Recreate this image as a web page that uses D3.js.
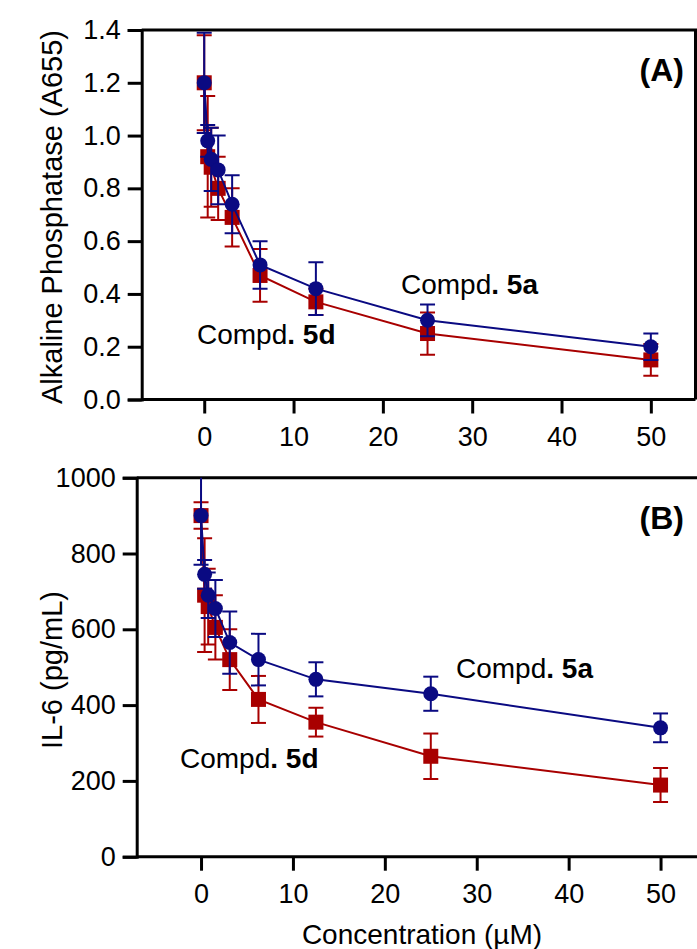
<!DOCTYPE html>
<html>
<head>
<meta charset="UTF-8">
<script src="https://cdn.jsdelivr.net/npm/d3@7"></script>
<style>
  body { margin: 0; background: #fff; }
  svg { display: block; font-family: "Liberation Sans", Arial, sans-serif; }
  .axis path, .axis line { stroke: #000; stroke-width: 3; }
  .axis text { font-size: 27px; fill: #000; }
</style>
</head>
<body>
<script>
// concentrations (uM)
const conc = [0, 0.39, 0.78, 1.56, 3.125, 6.25, 12.5, 25, 50];

// panel A - alkaline phosphatase (A655)
const alp5a = [1.20, 0.98, 0.91, 0.87, 0.74, 0.51, 0.42, 0.30, 0.20];
const alp5aErr = [0.19, 0.06, 0.12, 0.13, 0.11, 0.09, 0.10, 0.06, 0.05];
const alp5d = [1.20, 0.92, 0.88, 0.80, 0.69, 0.47, 0.37, 0.25, 0.15];
const alp5dErr = [0.18, 0.23, 0.15, 0.12, 0.11, 0.10, 0.05, 0.08, 0.06];

// panel B - IL-6 (pg/mL)
const il5a = [900, 745, 690, 655, 565, 520, 468, 430, 340];
const il5aErr = [130, 38, 60, 75, 82, 68, 45, 45, 38];
const il5d = [900, 690, 660, 605, 520, 415, 355, 265, 189];
const il5dErr = [35, 150, 100, 85, 80, 62, 38, 60, 45];

const xTicks = [0, 10, 20, 30, 40, 50];
const alpTicks = [0, 0.2, 0.4, 0.6, 0.8, 1.0, 1.2, 1.4];
const ilTicks = [0, 200, 400, 600, 800, 1000];

const blue = '#0a0a82', red = '#a80000';
const W = 697, H = 949;

const svg = d3.select('body').append('svg').attr('width', W).attr('height', H);

function panel(opt) {
  const x = d3.scaleLinear().domain([-7, 55]).range([opt.left, opt.right]);
  const y = d3.scaleLinear().domain(opt.yDomain).range([opt.bottom, opt.top]);
  const g = svg.append('g');

  const clipId = 'clip' + opt.id;
  g.append('clipPath').attr('id', clipId).append('rect')
    .attr('x', opt.left).attr('y', opt.top)
    .attr('width', opt.right - opt.left).attr('height', opt.bottom - opt.top);

  // frame top + right
  g.append('path')
    .attr('d', `M${opt.left},${opt.top}H${opt.right}V${opt.bottom}`)
    .attr('fill', 'none').attr('stroke', '#000').attr('stroke-width', 3);

  g.append('g').attr('class', 'axis')
    .attr('transform', `translate(0,${opt.bottom})`)
    .call(d3.axisBottom(x).tickValues(xTicks).tickSizeOuter(0).tickSize(14).tickPadding(13))
    .call(a => a.select('.domain').attr('d', `M${opt.left},0H${opt.right}`));

  g.append('g').attr('class', 'axis')
    .attr('transform', `translate(${opt.left},0)`)
    .call(d3.axisLeft(y).tickValues(opt.yTicks).tickFormat(opt.fmt).tickSizeOuter(0).tickSize(14).tickPadding(7));

  const plot = g.append('g').attr('clip-path', `url(#${clipId})`);

  function series(vals, errs, color, shape) {
    const pts = conc.map((c, i) => ({ c, v: vals[i], e: errs[i] }));
    const s = plot.append('g');
    s.selectAll('line.err').data(pts).enter().append('line')
      .attr('x1', d => x(d.c)).attr('x2', d => x(d.c))
      .attr('y1', d => y(d.v - d.e)).attr('y2', d => y(d.v + d.e))
      .attr('stroke', color).attr('stroke-width', 2);
    ['-', '+'].forEach(sign => {
      s.selectAll(null).data(pts).enter().append('line')
        .attr('x1', d => x(d.c) - 7.5).attr('x2', d => x(d.c) + 7.5)
        .attr('y1', d => y(sign === '+' ? d.v + d.e : d.v - d.e))
        .attr('y2', d => y(sign === '+' ? d.v + d.e : d.v - d.e))
        .attr('stroke', color).attr('stroke-width', 2);
    });
    s.append('path').datum(pts)
      .attr('d', d3.line().x(d => x(d.c)).y(d => y(d.v)))
      .attr('fill', 'none').attr('stroke', color).attr('stroke-width', 2);
    if (shape === 'square') {
      s.selectAll('rect').data(pts).enter().append('rect')
        .attr('x', d => x(d.c) - 7.5).attr('y', d => y(d.v) - 7.5)
        .attr('width', 15).attr('height', 15).attr('fill', color);
    } else {
      s.selectAll('circle').data(pts).enter().append('circle')
        .attr('cx', d => x(d.c)).attr('cy', d => y(d.v)).attr('r', 7.5).attr('fill', color);
    }
  }
  series(opt.d, opt.dErr, red, 'square');
  series(opt.a, opt.aErr, blue, 'circle');

  // y title
  g.append('text')
    .attr('transform', `translate(62,${opt.titleY}) rotate(-90)`)
    .attr('text-anchor', 'middle').style('font-size', '29px').text(opt.yTitle);

  // panel letter
  g.append('text').attr('x', 684).attr('y', opt.top + 51)
    .attr('text-anchor', 'end').style('font-size', '32px').style('font-weight', 'bold')
    .text(opt.letter);

  // compound labels
  opt.labels.forEach(l => {
    const t = g.append('text').attr('x', l[0]).attr('y', l[1]).style('font-size', '28px');
    t.append('tspan').text('Compd');
    t.append('tspan').style('font-weight', 'bold').text('. ' + l[2]);
  });
  return x;
}

panel({
  id: 'A', left: 141.7, right: 695.5, top: 30, bottom: 399.5,
  yDomain: [0, 1.4], yTicks: alpTicks, fmt: d3.format('.1f'),
  a: alp5a, aErr: alp5aErr, d: alp5d, dErr: alp5dErr,
  yTitle: 'Alkaline Phosphatase (A655)', titleY: 217, letter: '(A)',
  labels: [[401, 294, '5a'], [197, 344, '5d']]
});

panel({
  id: 'B', left: 136.7, right: 706.5, top: 477.7, bottom: 856.7,
  yDomain: [0, 1000], yTicks: ilTicks, fmt: d3.format('d'),
  a: il5a, aErr: il5aErr, d: il5d, dErr: il5dErr,
  yTitle: 'IL-6 (pg/mL)', titleY: 670, letter: '(B)',
  labels: [[456, 678, '5a'], [180, 768, '5d']]
});

svg.append('text').attr('x', 422).attr('y', 944)
  .attr('text-anchor', 'middle').style('font-size', '28px')
  .text('Concentration (µM)');
</script>
</body>
</html>
